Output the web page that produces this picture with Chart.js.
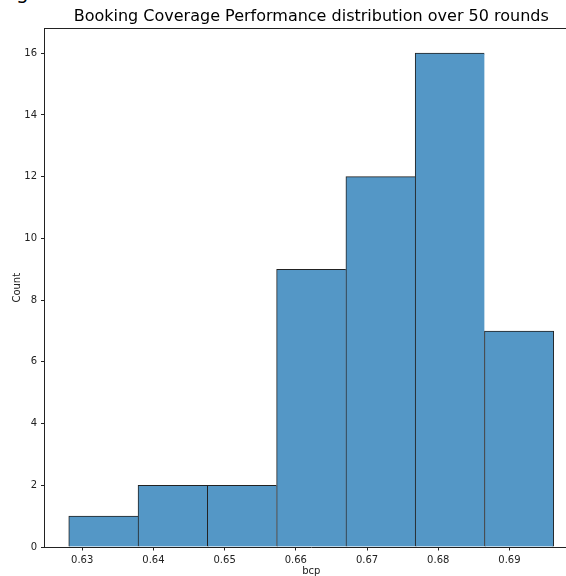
<!DOCTYPE html>
<html>
<head>
<meta charset="utf-8">
<script src="https://cdn.jsdelivr.net/npm/chart.js@4/dist/chart.umd.min.js"></script>
<style>
  html, body { margin: 0; padding: 0; overflow: hidden; background: #fff; width: 566px; height: 576px; }
  #wrap { position: relative; width: 566px; height: 576px; overflow: hidden; }
  #wrap canvas { position: absolute; left: 0; top: 0; }
  #frag { position: absolute; left: 16px; top: -18px; font: 20px "DejaVu Sans"; line-height: 1; color: #000; }
</style>
</head>
<body>
<div id="wrap">
  <span id="frag">g</span>
  <canvas id="hist" width="622" height="590"></canvas>
</div>
<script>
// Histogram of booking coverage performance (bcp) per round
const binEdges = [0.62811, 0.63784, 0.64757, 0.65730, 0.66703, 0.67676, 0.68649, 0.69622];
const counts = [1, 2, 2, 9, 12, 16, 7];
const xTickValues = [0.63, 0.64, 0.65, 0.66, 0.67, 0.68, 0.69];
const yTickValues = [0, 2, 4, 6, 8, 10, 12, 14, 16];
const chartTitle = 'Booking Coverage Performance distribution over 50 rounds';
const xLabel = 'bcp';
const yLabel = 'Count';

// Bar centres and axis limits with a 5% margin around the data
const centers = counts.map((_, i) => (binEdges[i] + binEdges[i + 1]) / 2);
const span = binEdges[binEdges.length - 1] - binEdges[0];
const xMin = binEdges[0] - 0.05 * span;
const xMax = binEdges[binEdges.length - 1] + 0.05 * span;
const yMax = Math.max(...counts) * 1.05;

const ink = '#222';
const tickFont = { family: 'DejaVu Sans', size: 10, weight: 'normal' };

// Top and right spines of the axes box
const frame = {
  id: 'frame',
  afterDatasetsDraw(chart) {
    const { ctx, chartArea: a } = chart;
    ctx.save();
    ctx.strokeStyle = ink;
    ctx.lineWidth = 1;
    ctx.beginPath();
    ctx.moveTo(Math.floor(a.left), Math.floor(a.top) + 0.5);
    ctx.lineTo(Math.ceil(a.right), Math.floor(a.top) + 0.5);
    ctx.lineTo(Math.ceil(a.right) - 0.5, Math.ceil(a.bottom));
    ctx.stroke();
    ctx.restore();
  }
};

new Chart(document.getElementById('hist'), {
  type: 'bar',
  data: {
    datasets: [{
      data: centers.map((x, i) => ({ x, y: counts[i] })),
      backgroundColor: 'rgb(84,151,198)',
      borderColor: ink,
      borderWidth: (c) => ({ top: 1, left: 1, bottom: 0, right: c.dataIndex === counts.length - 1 ? 1 : 0 }),
      borderSkipped: false,
      barPercentage: 1,
      categoryPercentage: 1,
      grouped: false
    }]
  },
  options: {
    responsive: false,
    animation: false,
    devicePixelRatio: 1,
    layout: { padding: { left: 0, right: 44, top: 0, bottom: 0 } },
    plugins: {
      legend: { display: false },
      tooltip: { enabled: false },
      title: {
        display: true,
        fullSize: false,
        text: chartTitle,
        color: '#000',
        font: { family: 'DejaVu Sans', size: 16, weight: 'normal' },
        padding: { top: 7, bottom: 2.3 }
      }
    },
    scales: {
      x: {
        type: 'linear',
        min: xMin,
        max: xMax,
        offset: false,
        afterBuildTicks: (s) => { s.ticks = xTickValues.map(v => ({ value: v })); },
        afterFit: (s) => { s.height = 43; },
        ticks: {
          color: ink,
          font: tickFont,
          padding: 4,
          maxRotation: 0,
          autoSkip: false,
          callback: (v) => Number(v).toFixed(2)
        },
        grid: { display: true, offset: false, drawOnChartArea: false, drawTicks: true, tickLength: 3.5, color: ink, lineWidth: 1 },
        border: { display: true, color: ink, width: 1 },
        title: { display: true, text: xLabel, color: ink, font: tickFont, padding: { top: 0, bottom: 13 } }
      },
      y: {
        type: 'linear',
        min: 0,
        max: yMax,
        afterBuildTicks: (s) => { s.ticks = yTickValues.map(v => ({ value: v })); },
        afterFit: (s) => { s.width = 44.5; },
        ticks: { color: ink, font: tickFont, padding: 4, autoSkip: false },
        grid: { display: true, drawOnChartArea: false, drawTicks: true, tickLength: 3.5, color: ink, lineWidth: 1 },
        border: { display: true, color: ink, width: 1 },
        title: { display: true, text: yLabel, color: ink, font: tickFont, padding: { top: 11.5, bottom: 0 } }
      }
    }
  },
  plugins: [frame]
});
</script>
</body>
</html>
